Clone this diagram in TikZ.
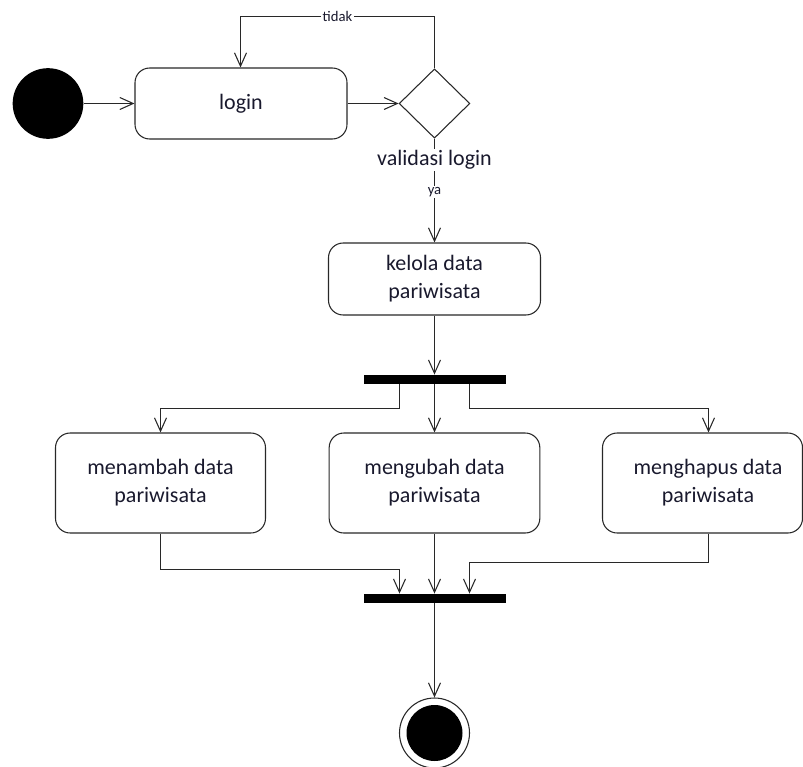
\documentclass[tikz,border=0pt]{standalone}
\usepackage{fontspec}
\setmainfont{Carlito}
\usetikzlibrary{arrows.meta,shapes.geometric,calc}
\definecolor{txt}{RGB}{25,25,45}
\definecolor{ln}{RGB}{40,40,40}
\begin{document}
\begin{tikzpicture}[x=0.75pt,y=-0.75pt,
  act/.style={draw=ln,line width=0.8pt,rounded corners=11pt,align=center,inner sep=0pt,
    font=\fontsize{16.5}{21}\selectfont,text=txt},
  barnode/.style={fill=black,draw=none,minimum width=106.5pt,minimum height=7pt,inner sep=0pt},
  arr/.style={draw=ln,line width=0.8pt,-{Straight Barb[length=10pt,width=9pt,line width=0.8pt]}},
  lbl/.style={fill=white,inner sep=1pt,font=\fontsize{11}{13}\selectfont,text=txt},
  biglbl/.style={fill=white,inner sep=1pt,font=\fontsize{16.5}{21}\selectfont,text=txt}]
\useasboundingbox (0,0) rectangle (803,767);
% nodes
\node[circle,fill=black,minimum size=53pt,inner sep=0pt] (start) at (48,103.5) {};
\node[act,minimum width=159pt,minimum height=53.25pt] (login) at (241,103.5) {login};
\node[diamond,draw=ln,line width=0.8pt,minimum width=53pt,minimum height=52pt,inner sep=0pt] (dec) at (434.5,103.5) {};
\node[act,minimum width=159pt,minimum height=54pt] (kelola) at (434.5,279) {kelola data\\pariwisata};
\node[barnode] (fork) at (434.5,379.5) {};
\node[act,minimum width=157.5pt,minimum height=75pt] (tambah) at (160.5,483) {menambah data\\pariwisata};
\node[act,minimum width=158pt,minimum height=75pt] (ubah) at (434.5,483) {mengubah data\\pariwisata};
\node[act,minimum width=150pt,minimum height=75pt] (hapus) at (702.5,483) {};
\node[font=\fontsize{16.5}{21}\selectfont,text=txt,align=center,inner sep=0pt] (hapustext) at (708,483) {menghapus data\\pariwisata};
\node[barnode] (join) at (434.5,598.5) {};
\node[circle,draw=ln,line width=0.8pt,minimum size=52.5pt,inner sep=0pt,
  path picture={\fill[black] (path picture bounding box.center) circle (21pt);}] (final) at (434.5,733) {};
% connectors
\draw[arr] (start) -- (login);
\draw[arr] (login) -- (dec);
\coordinate (loopR) at (434.5,16.5);
\coordinate (loopL) at (240.5,16.5);
\draw[arr] (dec.north) -- (loopR) -- node[lbl] {tidak} (loopL) -- (loopL |- login.north);
\draw[arr] (dec.south) -- (kelola.north);
\node[biglbl] (declbl) at (434.5,160) {validasi login};
\node[lbl] (ya) at (434.5,192) {ya};
\draw[arr] (kelola) -- (fork);
\draw[arr] ([xshift=-26.25pt]fork.south) -- ++(0,24) -| (tambah.north);
\draw[arr] (fork) -- (ubah);
\draw[arr] ([xshift=26.25pt]fork.south) -- ++(0,24) -| ([xshift=4.5pt]hapus.north);
\draw[arr] (tambah.south) -- ++(0,36) -| ([xshift=-26.25pt]join.north);
\draw[arr] (ubah) -- (join);
\draw[arr] ([xshift=4.5pt]hapus.south) -- ++(0,29) -| ([xshift=26.25pt]join.north);
\draw[arr] (join) -- (final);
\end{tikzpicture}
\end{document}
